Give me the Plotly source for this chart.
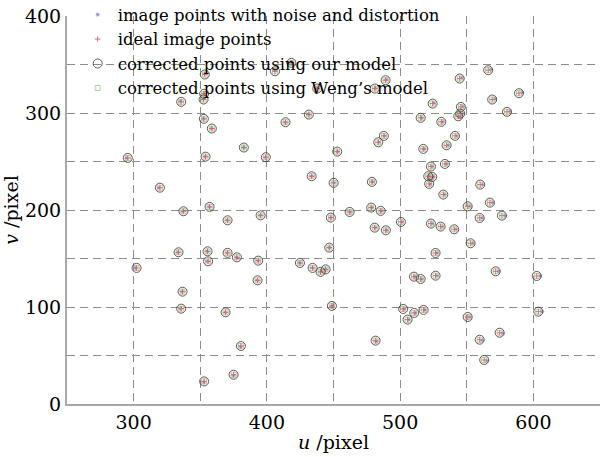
import plotly.graph_objects as go

# Values (pixel coordinates u, v)
ideal_u = [335.7, 352.9, 352.5, 352.7, 358.7, 382.7, 295.6, 354.0, 319.7, 337.4,
           357.0, 370.5, 418.4, 489.1, 544.7, 566.1, 589.2, 569.1, 580.2, 524.4,
           545.6, 545.1, 543.6, 515.4, 530.9, 541.2, 534.9, 517.4, 487.8, 483.6,
           452.8, 431.5, 414.0, 399.2, 433.6, 450.1, 478.8, 478.3, 485.4, 462.1,
           448.0, 395.3, 480.9, 489.3, 500.6, 446.8, 523.1, 533.6, 521.1, 524.1,
           521.8, 560.1, 532.4, 550.7, 567.4, 559.7, 576.4, 523.1, 530.4, 540.6,
           552.9, 481.6, 502.3, 510.6, 505.6, 517.6, 550.7, 574.7, 559.7, 563.1,
           603.7, 602.5, 571.7, 526.6, 510.4, 515.4, 526.6, 393.5, 393.0, 424.8,
           434.3, 440.3, 444.1, 448.8, 333.7, 355.5, 355.9, 370.5, 377.5, 302.2,
           336.7, 335.7, 369.0, 380.5, 375.0, 352.9, 437.8, 481.0, 353.4, 406.1]
ideal_v = [311.5, 319.8, 313.9, 294.0, 284.0, 264.4, 253.7, 255.0, 223.0, 198.7,
           203.2, 189.4, 351.7, 333.8, 335.5, 344.1, 320.4, 313.9, 301.2, 309.7,
           306.3, 299.4, 296.6, 295.0, 290.9, 276.4, 266.7, 263.0, 276.4, 269.8,
           260.2, 298.4, 290.5, 254.4, 234.8, 228.0, 229.0, 202.5, 199.1, 198.0,
           192.2, 194.5, 181.8, 179.1, 187.7, 161.2, 244.8, 247.5, 234.8, 234.1,
           226.9, 226.2, 215.9, 203.8, 207.6, 191.8, 194.2, 186.0, 182.9, 180.1,
           165.7, 65.3, 98.0, 93.9, 87.0, 97.0, 89.7, 73.5, 66.3, 45.4,
           95.2, 132.0, 136.8, 155.7, 131.3, 128.9, 132.3, 147.8, 127.5, 145.4,
           140.3, 136.2, 138.8, 101.1, 156.4, 157.4, 147.1, 155.8, 151.2, 140.3,
           115.8, 98.3, 94.5, 59.8, 30.2, 23.3, 325.2, 325.2, 339.7, 343.0]

noisy_u = [335.2, 352.7, 352.3, 352.5, 358.6, 382.7, 294.9, 353.8, 319.1, 337.0,
           356.9, 370.4, 418.4, 489.6, 546.3, 568.2, 591.6, 571.2, 582.4, 525.3,
           547.2, 546.7, 545.1, 516.1, 532.0, 542.6, 536.1, 518.1, 488.2, 484.0,
           453.0, 431.5, 413.9, 399.1, 433.6, 450.2, 479.3, 478.7, 485.9, 462.4,
           448.1, 395.2, 481.3, 489.8, 501.3, 446.9, 524.0, 534.8, 521.9, 525.0,
           522.6, 562.0, 533.5, 552.3, 569.5, 561.5, 578.7, 524.0, 531.5, 542.0,
           554.6, 482.1, 503.0, 511.4, 506.4, 518.5, 552.4, 577.0, 561.6, 565.2,
           606.6, 605.3, 573.9, 527.6, 511.1, 516.2, 527.6, 393.4, 392.9, 424.8,
           434.3, 440.3, 444.2, 448.9, 333.2, 355.3, 355.7, 370.4, 377.4, 301.5,
           336.3, 335.2, 368.9, 380.4, 374.9, 352.6, 437.8, 481.4, 353.2, 406.1]
noisy_v = [312.1, 320.4, 314.5, 294.0, 284.0, 264.4, 253.7, 255.0, 223.0, 198.7,
           203.2, 189.4, 352.4, 334.4, 336.2, 344.9, 321.1, 314.5, 301.8, 310.2,
           306.8, 299.4, 296.6, 295.0, 290.9, 276.4, 266.7, 263.0, 276.4, 269.8,
           260.2, 298.4, 290.5, 254.4, 234.8, 228.0, 229.0, 202.5, 199.1, 198.0,
           192.2, 194.5, 181.8, 179.1, 187.7, 161.2, 244.8, 247.5, 234.8, 234.1,
           226.9, 226.2, 215.9, 203.8, 207.6, 191.8, 194.2, 186.0, 182.9, 180.1,
           165.7, 64.7, 98.0, 93.9, 87.0, 97.0, 89.7, 72.9, 65.6, 44.6,
           95.2, 132.0, 136.8, 155.7, 131.3, 128.9, 132.3, 147.8, 127.5, 145.4,
           140.3, 136.2, 138.8, 101.1, 156.4, 157.4, 147.1, 155.8, 151.2, 140.3,
           115.8, 98.3, 94.5, 59.2, 29.4, 22.5, 325.7, 325.7, 340.3, 343.7]

# corrected points coincide with the ideal ones at this scale
ours_u = list(ideal_u)
ours_v = list(ideal_v)
weng_u = list(ideal_u)
weng_v = list(ideal_v)

names = ["image points with noise and distortion", "ideal image points",
         "corrected points using our model", "corrected points using Weng\u2019s model"]

x_ticks = [250, 300, 350, 400, 450, 500, 550, 600, 650]
x_labels = ["", "300", "", "400", "", "500", "", "600", ""]
y_ticks = [0, 50, 100, 150, 200, 250, 300, 350, 400]
y_labels = ["0", "", "100", "", "200", "", "300", "", "400"]

FONT = "DejaVu Serif"

fig = go.Figure()
fig.add_trace(go.Scatter(x=noisy_u, y=noisy_v, mode="markers", name=names[0],
                         marker=dict(symbol="asterisk-open", size=3.5, color="#6a6ae8",
                                     line=dict(width=0.6))))
fig.add_trace(go.Scatter(x=weng_u, y=weng_v, mode="markers", name=names[3],
                         legendrank=4,
                         marker=dict(symbol="square-open", size=5, color="#9cc48e",
                                     line=dict(width=0.8))))
fig.add_trace(go.Scatter(x=ideal_u, y=ideal_v, mode="markers", name=names[1],
                         legendrank=2,
                         marker=dict(symbol="cross-thin-open", size=4, color="#e06060",
                                     line=dict(width=0.9))))
fig.add_trace(go.Scatter(x=ours_u, y=ours_v, mode="markers", name=names[2],
                         legendrank=3,
                         marker=dict(symbol="circle-open", size=9, color="#4a4a3c",
                                     line=dict(width=0.9))))
fig.data[0].legendrank = 1

fig.update_layout(
    width=615, height=457,
    margin=dict(l=67, r=15, t=16, b=53, autoexpand=False),
    paper_bgcolor="white", plot_bgcolor="white",
    font=dict(family=FONT, color="black", size=18),
    showlegend=True,
    legend=dict(x=0.02, y=1.048, xanchor="left", yanchor="top",
                bgcolor="rgba(0,0,0,0)", borderwidth=0,
                font=dict(family=FONT, size=16.5, color="black"),
                tracegroupgap=0, itemsizing="trace"),
    xaxis=dict(range=[250, 650], tickvals=x_ticks, ticktext=x_labels,
               showgrid=True, gridcolor="#8c8c8c", griddash="8px,5px", gridwidth=1,
               showline=True, linecolor="#a8a8a8", linewidth=2,
               ticks="", zeroline=False, automargin=False,
               tickfont=dict(family=FONT, size=19),
               title=dict(text="<i>u</i> /pixel", standoff=4,
                          font=dict(family=FONT, size=19))),
    yaxis=dict(range=[0, 400], tickvals=y_ticks, ticktext=y_labels,
               showgrid=True, gridcolor="#8c8c8c", griddash="8px,5px", gridwidth=1,
               showline=True, linecolor="#a8a8a8", linewidth=2,
               ticks="", zeroline=False, automargin=False,
               tickfont=dict(family=FONT, size=19),
               title=dict(text="<i>v</i> /pixel", standoff=4,
                          font=dict(family=FONT, size=19))),
)

fig.write_html("out.html")
